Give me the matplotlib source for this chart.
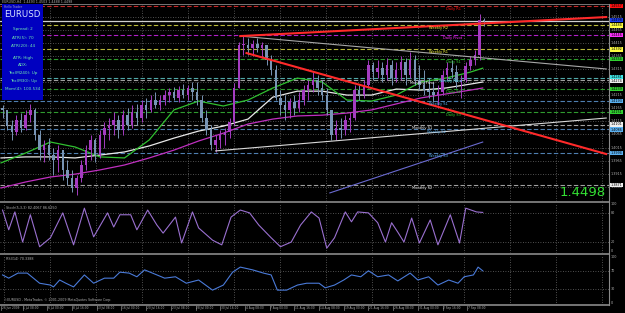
import matplotlib
matplotlib.use("Agg")
import matplotlib.pyplot as plt
from matplotlib.lines import Line2D
from matplotlib.patches import Rectangle
import numpy as np

W, H = 625, 313

# ---- EURUSD H4, bars grouped by three (index = middle H4 bar) ----
bar_idx = list(range(1, 315, 3))
highs = [1.4178, 1.4151, 1.4120, 1.4139, 1.4147, 1.4159, 1.4182, 1.4166, 1.4082, 1.4044,
         1.4051, 1.4013, 1.4025, 1.4005, 1.3967, 1.3929, 1.3910, 1.3967, 1.4025, 1.4063,
         1.4051, 1.4082, 1.4113, 1.4128, 1.4151, 1.4139, 1.4159, 1.4166, 1.4178, 1.4182,
         1.4197, 1.4205, 1.4216, 1.4228, 1.4216, 1.4235, 1.4243, 1.4247, 1.4251, 1.4258,
         1.4254, 1.4266, 1.4266, 1.4216, 1.4159, 1.4101, 1.4063, 1.4082, 1.4090, 1.4128,
         1.4262, 1.4419, 1.4442, 1.4434, 1.4427, 1.4434, 1.4419, 1.4408, 1.4369, 1.4331,
         1.4235, 1.4216, 1.4205, 1.4216, 1.4228, 1.4254, 1.4274, 1.4304, 1.4293, 1.4274,
         1.4243, 1.4159, 1.4120, 1.4128, 1.4139, 1.4151, 1.4254, 1.4254, 1.4274, 1.4350,
         1.4342, 1.4350, 1.4342, 1.4358, 1.4350, 1.4342, 1.4365, 1.4358, 1.4381, 1.4369,
         1.4331, 1.4312, 1.4281, 1.4266, 1.4254, 1.4312, 1.4342, 1.4350, 1.4331, 1.4293,
         1.4342, 1.4365, 1.4388, 1.4526, 1.4511]
lows = [1.4128, 1.4082, 1.4044, 1.4063, 1.4074, 1.4082, 1.4113, 1.4044, 1.3967, 1.3959,
        1.3967, 1.3910, 1.3921, 1.3891, 1.3871, 1.3845, 1.3833, 1.3883, 1.3929, 1.3967,
        1.3959, 1.3975, 1.4013, 1.4044, 1.4063, 1.4051, 1.4063, 1.4082, 1.4090, 1.4101,
        1.4113, 1.4128, 1.4151, 1.4166, 1.4159, 1.4178, 1.4189, 1.4197, 1.4189, 1.4205,
        1.4197, 1.4197, 1.4178, 1.4113, 1.4063, 1.4005, 1.3998, 1.4013, 1.4025, 1.4051,
        1.4101, 1.4243, 1.4369, 1.4369, 1.4369, 1.4381, 1.4358, 1.4331, 1.4293, 1.4197,
        1.4139, 1.4120, 1.4128, 1.4139, 1.4151, 1.4178, 1.4197, 1.4228, 1.4216, 1.4197,
        1.4139, 1.4044, 1.4044, 1.4051, 1.4063, 1.4074, 1.4120, 1.4197, 1.4205, 1.4243,
        1.4274, 1.4281, 1.4266, 1.4274, 1.4254, 1.4266, 1.4274, 1.4254, 1.4281, 1.4254,
        1.4235, 1.4216, 1.4205, 1.4189, 1.4178, 1.4216, 1.4274, 1.4281, 1.4243, 1.4205,
        1.4266, 1.4312, 1.4331, 1.4350, 1.4480]
closes = [1.4159, 1.4097, 1.4074, 1.4120, 1.4090, 1.4139, 1.4159, 1.4063, 1.4005, 1.4025,
          1.3986, 1.3967, 1.4005, 1.3929, 1.3898, 1.3860, 1.3898, 1.3948, 1.4005, 1.4044,
          1.3986, 1.4063, 1.4090, 1.4101, 1.4120, 1.4082, 1.4139, 1.4101, 1.4151, 1.4128,
          1.4178, 1.4159, 1.4197, 1.4178, 1.4197, 1.4216, 1.4228, 1.4205, 1.4235, 1.4216,
          1.4243, 1.4228, 1.4197, 1.4128, 1.4082, 1.4025, 1.4044, 1.4063, 1.4074, 1.4113,
          1.4243, 1.4408, 1.4408, 1.4396, 1.4411, 1.4396, 1.4408, 1.4350, 1.4312, 1.4205,
          1.4178, 1.4159, 1.4189, 1.4166, 1.4197, 1.4235, 1.4254, 1.4274, 1.4243, 1.4216,
          1.4159, 1.4063, 1.4090, 1.4082, 1.4120, 1.4128, 1.4235, 1.4216, 1.4254, 1.4331,
          1.4304, 1.4319, 1.4293, 1.4331, 1.4281, 1.4312, 1.4342, 1.4293, 1.4350, 1.4274,
          1.4254, 1.4235, 1.4228, 1.4216, 1.4228, 1.4293, 1.4319, 1.4304, 1.4266, 1.4274,
          1.4327, 1.4350, 1.4369, 1.4503, 1.4498]
first_open = 1.4165

# moving averages (green / white / magenta)
ma_idx = [0, 16, 32, 48, 64, 80, 96, 112, 128, 144, 160, 176, 192, 208, 224, 240, 256, 272, 288, 304, 312]
ma_fast = [1.3956, 1.3994, 1.4036, 1.4017, 1.3979, 1.3975, 1.4044, 1.4159, 1.4193, 1.4174, 1.4197,
           1.4243, 1.4281, 1.4266, 1.4197, 1.4193, 1.4216, 1.4266, 1.4281, 1.4304, 1.4319]
ma_mid = [1.3975, 1.3979, 1.3979, 1.3975, 1.3986, 1.3998, 1.4021, 1.4051, 1.4078, 1.4097, 1.4124,
          1.4208, 1.4231, 1.4231, 1.4216, 1.4216, 1.4239, 1.4235, 1.4243, 1.4258, 1.4266]
ma_slow = [1.3860, 1.3883, 1.3902, 1.3913, 1.3929, 1.3948, 1.3975, 1.4005, 1.4040, 1.4070, 1.4105,
           1.4124, 1.4136, 1.4139, 1.4147, 1.4159, 1.4182, 1.4205, 1.4220, 1.4235, 1.4243]

# pivot levels
level_names = ["Daily R1", "Weekly R2", "Daily Pivot", "Weekly R1", "Daily S1", "Weekly Pivot",
               "Monthly Pivot", "Daily S2", "Weekly S1", "Daily S3", "Monthly S1", "Weekly S2",
               "Weekly S3", "Monthly S2"]
level_prices = [1.4557, 1.4484, 1.4446, 1.4392, 1.4354, 1.4281, 1.4274, 1.4239, 1.4193, 1.4151,
                1.4101, 1.4086, 1.3994, 1.3871]

# trend lines (bar index, price)
red_up_idx, red_up_px = [155, 392], [1.4442, 1.4515]
red_dn_idx, red_dn_px = [159, 392], [1.4377, 1.3990]
grey_idx, grey_px = [155, 392], [1.4442, 1.4316]
white_idx, white_px = [139, 392], [1.4002, 1.4128]
violet_idx, violet_px = [213, 312], [1.3841, 1.4036]

# Stochastic(5,3,3)
stoch_idx = [1, 5, 9, 14, 19, 25, 32, 40, 47, 54, 60, 69, 73, 77, 84, 88, 95, 101, 105, 113, 117,
             124, 128, 137, 143, 149, 155, 161, 167, 175, 181, 188, 194, 201, 206, 211, 216, 223,
             227, 231, 238, 244, 249, 253, 257, 261, 266, 271, 278, 283, 291, 297, 301, 308, 312]
stoch_val = [87, 45, 83, 19, 77, 9, 28, 81, 13, 91, 30, 81, 51, 77, 77, 45, 87, 55, 38, 72, 17,
             83, 49, 23, 13, 72, 87, 81, 55, 28, 9, 19, 55, 83, 70, 6, 28, 83,
             62, 83, 81, 60, 19, 60, 40, 19, 70, 17, 66, 13, 77, 17, 91, 83, 82]

# RSI(14)
rsi_idx = [1, 5, 11, 17, 25, 32, 34, 38, 42, 47, 54, 60, 67, 73, 77, 83, 88, 93, 101, 106, 113,
           120, 128, 137, 144, 150, 155, 163, 170, 175, 179, 185, 192, 198, 206, 210, 216, 222,
           227, 233, 238, 244, 251, 257, 265, 270, 277, 283, 290, 296, 300, 306, 309, 312]
rsi_val = [61, 54, 65, 65, 43, 39, 35, 50, 43, 35, 61, 43, 54, 54, 67, 65, 57, 72, 61, 54, 57,
           43, 50, 28, 39, 67, 78, 72, 65, 61, 28, 28, 39, 43, 43, 33, 39, 50,
           61, 57, 70, 57, 61, 48, 65, 50, 57, 39, 50, 43, 57, 61, 78, 70]

price_ticks = [1.3865, 1.3915, 1.3965, 1.4015, 1.4065, 1.4115, 1.4165, 1.4215, 1.4265,
               1.4315, 1.4365, 1.4415, 1.4465, 1.4515]
date_idx = [0, 14, 30, 46, 62, 78, 94, 110, 126, 142, 158, 174, 190, 206, 222, 238, 254, 270, 286, 302]
date_labels = ["26 Jun 2009", "1 Jul 08:00", "6 Jul 00:00", "8 Jul 16:00", "13 Jul 08:00",
               "16 Jul 00:00", "20 Jul 16:00", "23 Jul 08:00", "28 Jul 00:00", "30 Jul 16:00",
               "4 Aug 08:00", "7 Aug 00:00", "11 Aug 16:00", "14 Aug 08:00", "19 Aug 00:00",
               "21 Aug 16:00", "26 Aug 08:00", "31 Aug 00:00", "2 Sep 16:00", "7 Sep 08:00"]

info_lines = ["Spread: 2", "ATR(5): 70", "ATR(20): 44", "ATR: High", "ADX:",
              "Tex(M240): Up", "Tex(M30): Up", "Mom(4): 100.534"]

# ---- styles ----
line_col = {"Daily": "#c02828", "Weekly R": "#b8b83a", "Daily Pivot": "#b020c8",
            "DailyS": "#2f9a2f", "Monthly": "#a0a0a0", "Weekly Pivot": "#50a8a8", "WeeklyS": "#4f7fb0"}
box_col = {"Daily": "#ff1010", "Weekly R": "#ffff40", "Daily Pivot": "#ff30ff",
           "DailyS": "#30d030", "Monthly": "#f0f0f0", "Weekly Pivot": "#40e8e8", "WeeklyS": "#5ab0f0"}


def level_kind(name):
    if name == "Daily R1":
        return "Daily"
    if name in ("Daily Pivot", "Weekly Pivot"):
        return name
    if name.startswith("Daily S"):
        return "DailyS"
    if name.startswith("Weekly R"):
        return "Weekly R"
    if name.startswith("Weekly S"):
        return "WeeklyS"
    return "Monthly"


label_x = [288, 277, 286, 277, 288, 284, 265, 288, 277, 288, 266, 276, 277, 266]
# small vertical nudges of the right-hand price boxes so close ones don't collide
box_nudge = [0, 0, 0, 0, 0, 0.0004, -0.0004, 0, 0, 0, 0.0003, -0.0003, 0, 0]

GRID = "#6a6a6a"
TXT = "#b0b0b0"
FS = 2.4            # tiny MT4 label size
xgrid = np.arange(2, 394, 29.8)
XLIM = (-0.65, 393.8)

fig = plt.figure(figsize=(W / 100, H / 100), dpi=100, facecolor="black")


def px_axes(x0, y0, x1, y1):
    ax = fig.add_axes([x0 / W, 1 - y1 / H, (x1 - x0) / W, (y1 - y0) / H])
    ax.set_facecolor("black")
    ax.set_xlim(*XLIM)
    ax.set_axis_off()
    for gx in xgrid:
        ax.axvline(gx, color=GRID, lw=0.6, ls=(0, (1, 2)), zorder=0)
    return ax


def right_label(ax, y, txt, fc=None):
    kw = dict(transform=ax.get_yaxis_transform(), fontsize=FS, va="center", ha="left",
              clip_on=False)
    if fc is None:
        ax.text(1.003, y, txt, color=TXT, **kw)
    else:
        ax.text(1.003, y, txt, color="black", zorder=9,
                bbox=dict(boxstyle="square,pad=0.12", fc=fc, ec="none"), **kw)


# ---- main price panel ----
ax = px_axes(0, 4, 609, 201)
ax.set_ylim(1.3810, 1.4565)
for p in price_ticks:
    ax.axhline(p, color=GRID, lw=0.6, ls=(0, (1, 2)), zorder=0)
    right_label(ax, p, f"{p:.4f}")

for name, p, lx, dy in zip(level_names, level_prices, label_x, box_nudge):
    k = level_kind(name)
    ax.axhline(p, color=line_col[k], lw=0.8, ls=(0, (4, 2)), zorder=1)
    ax.text(lx, p - 0.0003, name, color=box_col[k], fontsize=2.6, va="top", ha="left", zorder=6)
    right_label(ax, p + dy, f"{p:.4f}", box_col[k])

# bid line
ax.axhline(closes[-1], color="#d0d0d0", lw=0.9, zorder=2)
right_label(ax, closes[-1] + 0.0006, f"{closes[-1]:.4f}", "#1a3cf0")

# moving averages
ax.plot(ma_idx, ma_slow, color="#c030c0", lw=0.9, zorder=3)
ax.plot(ma_idx, ma_mid, color="#e8e8e8", lw=0.9, zorder=3)
ax.plot(ma_idx, ma_fast, color="#30c030", lw=0.9, zorder=3)

# candles
o = np.array([first_open] + closes[:-1])
c = np.array(closes)
cols = np.where(c >= o, "#a43cc0", "#7894b4")
ax.vlines(bar_idx, lows, highs, colors=cols, lw=0.7, zorder=4)
ax.bar(bar_idx, np.maximum(np.abs(c - o), 0.0002), bottom=np.minimum(o, c), width=1.6,
       color=cols, zorder=4)

# trend lines
ax.plot(grey_idx, grey_px, color="#a8a8a8", lw=0.8, zorder=5)
ax.plot(white_idx, white_px, color="#d8d8d8", lw=0.8, zorder=5)
ax.plot(violet_idx, violet_px, color="#6a6ad0", lw=0.8, zorder=5)
ax.plot(red_up_idx, red_up_px, color="#ff2a2a", lw=1.5, zorder=5)
ax.plot(red_dn_idx, red_dn_px, color="#ff2a2a", lw=1.5, zorder=5)

ax.text(0.994, 0.012, f"{closes[-1]:.4f}", transform=ax.transAxes, color="#33e033",
        fontsize=9.5, ha="right", va="bottom", zorder=9)

# ---- stochastic ----
ax2 = px_axes(0, 203, 609, 253)
ax2.set_ylim(-4.3, 102)
for v in (80, 20):
    ax2.axhline(v, color=GRID, lw=0.6, ls=(0, (1, 2)), zorder=0)
for v in (100, 80, 20, 0):
    right_label(ax2, v, str(v))
ax2.plot(stoch_idx, stoch_val, color="#9a70d0", lw=0.8, zorder=3)
ax2.text(3, 96, "Stoch(5,3,3) 82.4067 86.6250", color=TXT, fontsize=FS, va="top")

# ---- RSI ----
ax3 = px_axes(0, 255, 609, 305)
ax3.set_ylim(-4.3, 104.3)
for v in (70, 30):
    ax3.axhline(v, color=GRID, lw=0.6, ls=(0, (1, 2)), zorder=0)
for v in (100, 70, 30, 0):
    right_label(ax3, v, str(v))
ax3.plot(rsi_idx, rsi_val, color="#4a7ad8", lw=0.8, zorder=3)
ax3.text(3, 101, "RSI(14) 70.3388", color=TXT, fontsize=FS, va="top")
ax3.text(2, 2, "\u00a9EURUSD - MetaTrader, \u00a9 2001-2009 MetaQuotes Software Corp.",
         color=TXT, fontsize=2.3, va="bottom")
for di, dl in zip(date_idx, date_labels):
    ax3.text(di + 0.5, -0.07, dl, transform=ax3.get_xaxis_transform(), color=TXT, fontsize=2.1,
             ha="left", va="center", clip_on=False)
    ax3.plot([di, di], [-0.02, -0.1], transform=ax3.get_xaxis_transform(), color="#8a8a8a",
             lw=0.5, clip_on=False)

# frame / separators
for yy in (202, 254, 305):
    fig.add_artist(Line2D([0, 609 / W], [1 - yy / H] * 2, color="#8a8a8a", lw=1.2))
fig.add_artist(Line2D([0, 609 / W], [1 - 3.5 / H] * 2, color="#8a8a8a", lw=0.6))
fig.add_artist(Line2D([609 / W] * 2, [1 - 3.5 / H, 1 - 305 / H], color="#8a8a8a", lw=0.8))

fig.text(2 / W, 1 - 1.8 / H, "EURUSD,H4  1.4493 1.4503 1.4488 1.4498", color=TXT,
         fontsize=2.3, va="center")

# info panel
fig.add_artist(Rectangle((2 / W, 1 - 100 / H), 41 / W, 96 / H, transform=fig.transFigure,
                         facecolor="#0000c0", edgecolor="none", zorder=10))
fig.text(4 / W, 1 - 7 / H, "Hello Trader", color="#a0a0c0", fontsize=2.2, va="center", zorder=11)
fig.text(22 / W, 1 - 14.5 / H, "EURUSD", color="#d8e4ff", fontsize=6.2, va="center",
         ha="center", zorder=11)
info_y = [29, 38, 46, 58, 65, 73, 81, 89]
for t, yy in zip(info_lines, info_y):
    fig.text(23 / W, 1 - yy / H, t, color="#70e8b0", fontsize=3.0, va="center",
             ha="center", zorder=11)

fig.savefig("out.png", dpi=100, facecolor="black")
